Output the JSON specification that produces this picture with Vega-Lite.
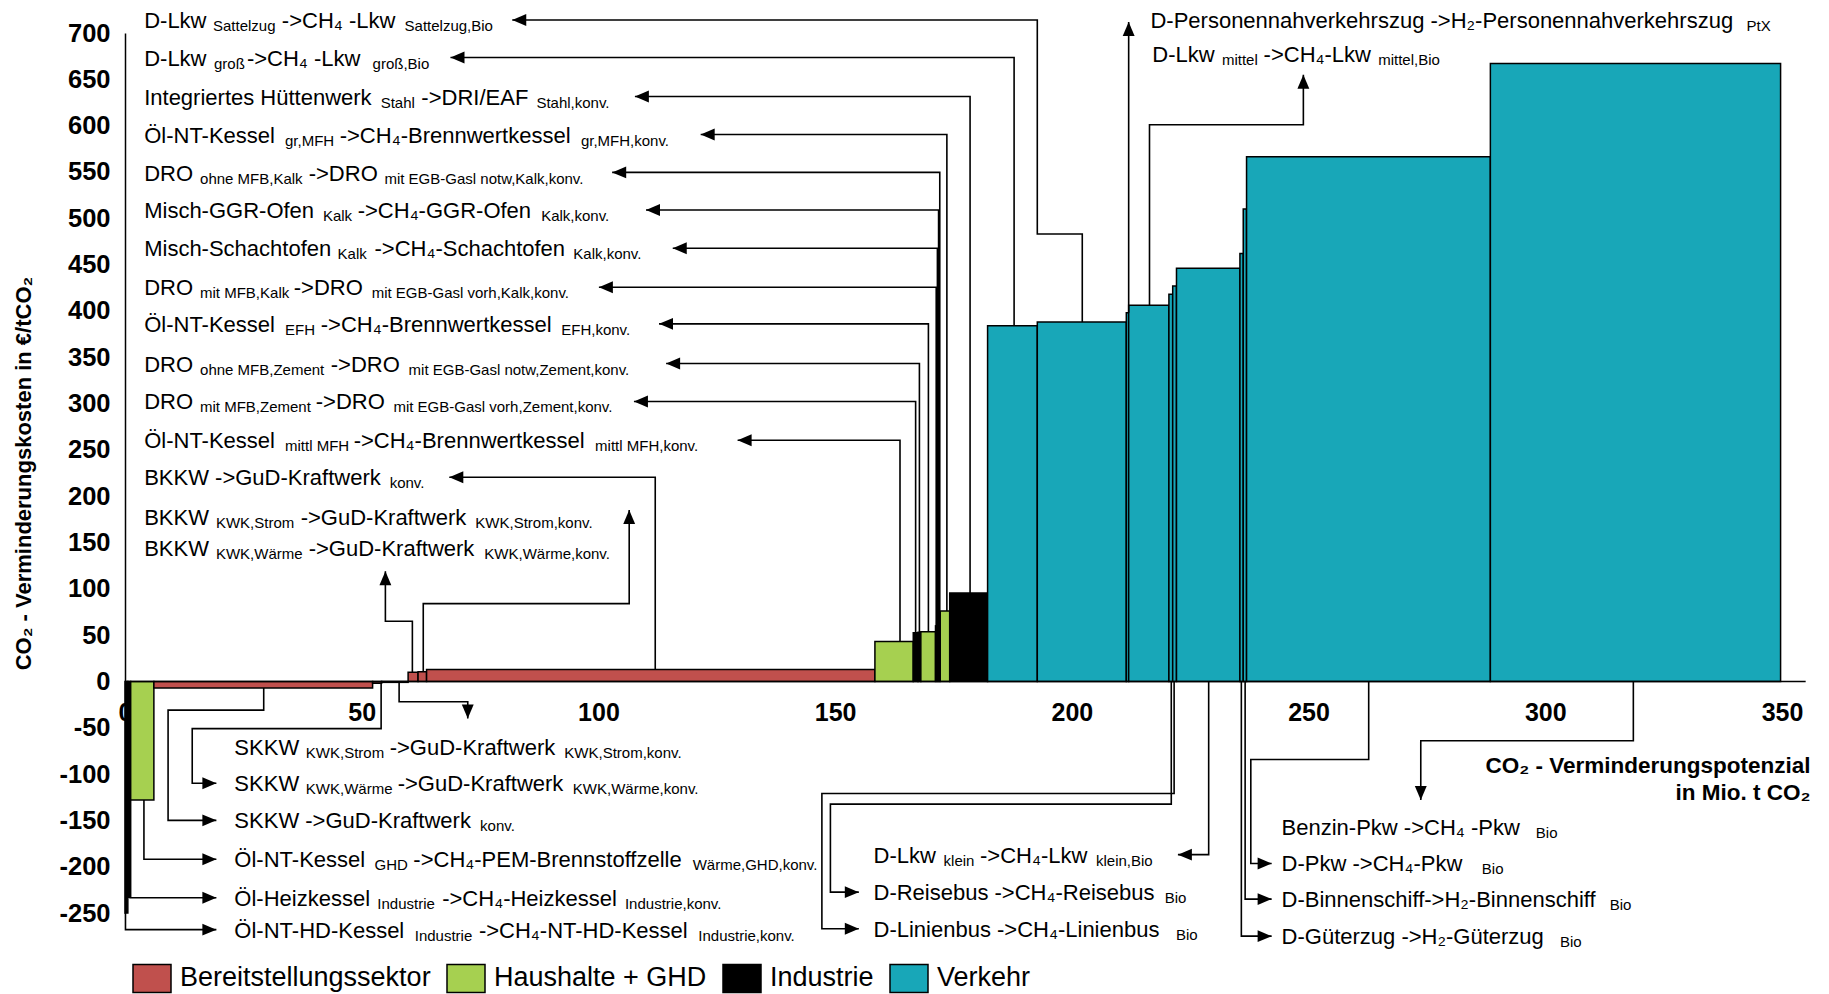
{
  "$schema": "https://vega.github.io/schema/vega-lite/v6.json",
  "width": 1657,
  "height": 880,
  "autosize": {"type": "none"},
  "padding": {"left": 125, "top": 33, "right": 47, "bottom": 81},
  "background": "white",
  "config": {"view": {"stroke": null}, "font": "Liberation Sans"},
  "datasets": {
    "bars": [
      {"x": 0, "x2": 0.6, "v": -250, "s": "Industrie"},
      {"x": 0.6, "x2": 1.2, "v": -233, "s": "Industrie"},
      {"x": 1.2, "x2": 6.1, "v": -128, "s": "Haushalte + GHD"},
      {"x": 6.1, "x2": 52.3, "v": -7, "s": "Bereitstellungssektor"},
      {"x": 52.3, "x2": 54.2, "v": -2, "s": "Bereitstellungssektor"},
      {"x": 54.2, "x2": 59.8, "v": -1, "s": "Bereitstellungssektor"},
      {"x": 59.8, "x2": 61.9, "v": 10, "s": "Bereitstellungssektor"},
      {"x": 61.9, "x2": 63.7, "v": 10.5, "s": "Bereitstellungssektor"},
      {"x": 63.7, "x2": 158.4, "v": 13, "s": "Bereitstellungssektor"},
      {"x": 158.4, "x2": 166.5, "v": 43, "s": "Haushalte + GHD"},
      {"x": 166.5, "x2": 167.5, "v": 52.5, "s": "Industrie"},
      {"x": 167.5, "x2": 168.1, "v": 53, "s": "Industrie"},
      {"x": 168.1, "x2": 171.2, "v": 53.5, "s": "Haushalte + GHD"},
      {"x": 171.2, "x2": 171.45, "v": 60, "s": "Industrie"},
      {"x": 171.45, "x2": 171.7, "v": 64, "s": "Industrie"},
      {"x": 171.7, "x2": 171.95, "v": 68, "s": "Industrie"},
      {"x": 171.95, "x2": 172.2, "v": 72, "s": "Industrie"},
      {"x": 172.2, "x2": 174.2, "v": 76, "s": "Haushalte + GHD"},
      {"x": 174.2, "x2": 182.2, "v": 95.5, "s": "Industrie"},
      {"x": 182.2, "x2": 192.7, "v": 384, "s": "Verkehr"},
      {"x": 192.7, "x2": 211.5, "v": 388, "s": "Verkehr"},
      {"x": 211.5, "x2": 212.0, "v": 398, "s": "Verkehr"},
      {"x": 212.0, "x2": 220.5, "v": 406, "s": "Verkehr"},
      {"x": 220.5, "x2": 221.3, "v": 418, "s": "Verkehr"},
      {"x": 221.3, "x2": 222.1, "v": 427, "s": "Verkehr"},
      {"x": 222.1, "x2": 235.5, "v": 446, "s": "Verkehr"},
      {"x": 235.5, "x2": 236.2, "v": 462, "s": "Verkehr"},
      {"x": 236.2, "x2": 236.9, "v": 510, "s": "Verkehr"},
      {"x": 236.9, "x2": 288.4, "v": 566.5, "s": "Verkehr"},
      {"x": 288.4, "x2": 349.7, "v": 667, "s": "Verkehr"}
    ],
    "leaders": [
      {"id": "L1", "o": 0, "x": 81.8, "y": 714}, {"id": "L1", "o": 1, "x": 192.7, "y": 714}, {"id": "L1", "o": 2, "x": 192.7, "y": 483}, {"id": "L1", "o": 3, "x": 202.2, "y": 483}, {"id": "L1", "o": 4, "x": 202.2, "y": 388},
      {"id": "L2", "o": 0, "x": 68.75, "y": 673.5}, {"id": "L2", "o": 1, "x": 187.8, "y": 673.5}, {"id": "L2", "o": 2, "x": 187.8, "y": 384},
      {"id": "L3", "o": 0, "x": 107.7, "y": 631.5}, {"id": "L3", "o": 1, "x": 178.5, "y": 631.5}, {"id": "L3", "o": 2, "x": 178.5, "y": 95.5},
      {"id": "L4", "o": 0, "x": 121.6, "y": 590.5}, {"id": "L4", "o": 1, "x": 173.6, "y": 590.5}, {"id": "L4", "o": 2, "x": 173.6, "y": 76},
      {"id": "L5", "o": 0, "x": 102.9, "y": 549.5}, {"id": "L5", "o": 1, "x": 172.1, "y": 549.5}, {"id": "L5", "o": 2, "x": 172.1, "y": 72},
      {"id": "L6", "o": 0, "x": 110.05, "y": 509}, {"id": "L6", "o": 1, "x": 171.85, "y": 509}, {"id": "L6", "o": 2, "x": 171.85, "y": 68},
      {"id": "L7", "o": 0, "x": 115.7, "y": 467.6}, {"id": "L7", "o": 1, "x": 171.6, "y": 467.6}, {"id": "L7", "o": 2, "x": 171.6, "y": 64},
      {"id": "L8", "o": 0, "x": 100.1, "y": 425.5}, {"id": "L8", "o": 1, "x": 171.35, "y": 425.5}, {"id": "L8", "o": 2, "x": 171.35, "y": 60},
      {"id": "L9", "o": 0, "x": 112.8, "y": 386}, {"id": "L9", "o": 1, "x": 169.7, "y": 386}, {"id": "L9", "o": 2, "x": 169.7, "y": 53.5},
      {"id": "L10", "o": 0, "x": 114.3, "y": 343.2}, {"id": "L10", "o": 1, "x": 167.8, "y": 343.2}, {"id": "L10", "o": 2, "x": 167.8, "y": 53},
      {"id": "L11", "o": 0, "x": 107.5, "y": 302.2}, {"id": "L11", "o": 1, "x": 167.0, "y": 302.2}, {"id": "L11", "o": 2, "x": 167.0, "y": 52.5},
      {"id": "L12", "o": 0, "x": 129.4, "y": 260.3}, {"id": "L12", "o": 1, "x": 163.7, "y": 260.3}, {"id": "L12", "o": 2, "x": 163.7, "y": 43},
      {"id": "L13", "o": 0, "x": 68.5, "y": 220.4}, {"id": "L13", "o": 1, "x": 112, "y": 220.4}, {"id": "L13", "o": 2, "x": 112, "y": 13},
      {"id": "L14", "o": 0, "x": 106.5, "y": 185}, {"id": "L14", "o": 1, "x": 106.5, "y": 84}, {"id": "L14", "o": 2, "x": 63.0, "y": 84}, {"id": "L14", "o": 3, "x": 63.0, "y": 10.5},
      {"id": "L15", "o": 0, "x": 55, "y": 119}, {"id": "L15", "o": 1, "x": 55, "y": 65}, {"id": "L15", "o": 2, "x": 60.7, "y": 65}, {"id": "L15", "o": 3, "x": 60.7, "y": 10},
      {"id": "B1", "o": 0, "x": 57.9, "y": -1}, {"id": "B1", "o": 1, "x": 57.9, "y": -22}, {"id": "B1", "o": 2, "x": 72.4, "y": -22}, {"id": "B1", "o": 3, "x": 72.4, "y": -40},
      {"id": "B2", "o": 0, "x": 54.1, "y": -2}, {"id": "B2", "o": 1, "x": 54.1, "y": -51}, {"id": "B2", "o": 2, "x": 14.2, "y": -51}, {"id": "B2", "o": 3, "x": 14.2, "y": -110}, {"id": "B2", "o": 4, "x": 19.3, "y": -110},
      {"id": "B3", "o": 0, "x": 29.3, "y": -7}, {"id": "B3", "o": 1, "x": 29.3, "y": -31}, {"id": "B3", "o": 2, "x": 9.1, "y": -31}, {"id": "B3", "o": 3, "x": 9.1, "y": -150}, {"id": "B3", "o": 4, "x": 19.3, "y": -150},
      {"id": "B4", "o": 0, "x": 4.0, "y": -128}, {"id": "B4", "o": 1, "x": 4.0, "y": -192}, {"id": "B4", "o": 2, "x": 19.3, "y": -192},
      {"id": "B5", "o": 0, "x": 0.9, "y": -233.5}, {"id": "B5", "o": 1, "x": 19.3, "y": -233.5},
      {"id": "B6", "o": 0, "x": 0.1, "y": -250}, {"id": "B6", "o": 1, "x": 0.1, "y": -268}, {"id": "B6", "o": 2, "x": 19.3, "y": -268},
      {"id": "M1", "o": 0, "x": 228.9, "y": 0}, {"id": "M1", "o": 1, "x": 228.9, "y": -187}, {"id": "M1", "o": 2, "x": 222.4, "y": -187},
      {"id": "M2", "o": 0, "x": 221.0, "y": 0}, {"id": "M2", "o": 1, "x": 221.0, "y": -132.5}, {"id": "M2", "o": 2, "x": 149.0, "y": -132.5}, {"id": "M2", "o": 3, "x": 149.0, "y": -227.5}, {"id": "M2", "o": 4, "x": 155.0, "y": -227.5},
      {"id": "M3", "o": 0, "x": 221.6, "y": 0}, {"id": "M3", "o": 1, "x": 221.6, "y": -121}, {"id": "M3", "o": 2, "x": 147.2, "y": -121}, {"id": "M3", "o": 3, "x": 147.2, "y": -267}, {"id": "M3", "o": 4, "x": 155.0, "y": -267},
      {"id": "R1", "o": 0, "x": 318.6, "y": 0}, {"id": "R1", "o": 1, "x": 318.6, "y": -64}, {"id": "R1", "o": 2, "x": 273.7, "y": -64}, {"id": "R1", "o": 3, "x": 273.7, "y": -128},
      {"id": "R2", "o": 0, "x": 262.7, "y": 0}, {"id": "R2", "o": 1, "x": 262.7, "y": -84.3}, {"id": "R2", "o": 2, "x": 237.8, "y": -84.3}, {"id": "R2", "o": 3, "x": 237.8, "y": -196.5}, {"id": "R2", "o": 4, "x": 242.2, "y": -196.5},
      {"id": "R3", "o": 0, "x": 236.6, "y": 0}, {"id": "R3", "o": 1, "x": 236.6, "y": -235}, {"id": "R3", "o": 2, "x": 242.2, "y": -235},
      {"id": "R4", "o": 0, "x": 235.8, "y": 0}, {"id": "R4", "o": 1, "x": 235.8, "y": -275}, {"id": "R4", "o": 2, "x": 242.2, "y": -275},
      {"id": "T1", "o": 0, "x": 212.0, "y": 712}, {"id": "T1", "o": 1, "x": 212.0, "y": 398},
      {"id": "T2", "o": 0, "x": 248.9, "y": 655}, {"id": "T2", "o": 1, "x": 248.9, "y": 601}, {"id": "T2", "o": 2, "x": 216.4, "y": 601}, {"id": "T2", "o": 3, "x": 216.4, "y": 406}
    ],
    "arrows": [
      {"x": 81.8, "y": 714, "dir": "left"}, {"x": 68.75, "y": 673.5, "dir": "left"}, {"x": 107.7, "y": 631.5, "dir": "left"},
      {"x": 121.6, "y": 590.5, "dir": "left"}, {"x": 102.9, "y": 549.5, "dir": "left"}, {"x": 110.05, "y": 509, "dir": "left"},
      {"x": 115.7, "y": 467.6, "dir": "left"}, {"x": 100.1, "y": 425.5, "dir": "left"}, {"x": 112.8, "y": 386, "dir": "left"},
      {"x": 114.3, "y": 343.2, "dir": "left"}, {"x": 107.5, "y": 302.2, "dir": "left"}, {"x": 129.4, "y": 260.3, "dir": "left"},
      {"x": 68.5, "y": 220.4, "dir": "left"}, {"x": 106.5, "y": 185, "dir": "up"}, {"x": 55, "y": 119, "dir": "up"},
      {"x": 72.4, "y": -40, "dir": "down"}, {"x": 19.3, "y": -110, "dir": "right"}, {"x": 19.3, "y": -150, "dir": "right"},
      {"x": 19.3, "y": -192, "dir": "right"}, {"x": 19.3, "y": -233.5, "dir": "right"}, {"x": 19.3, "y": -268, "dir": "right"},
      {"x": 222.4, "y": -187, "dir": "left"}, {"x": 155.0, "y": -227.5, "dir": "right"}, {"x": 155.0, "y": -267, "dir": "right"},
      {"x": 273.7, "y": -128, "dir": "down"}, {"x": 242.2, "y": -196.5, "dir": "right"}, {"x": 242.2, "y": -235, "dir": "right"},
      {"x": 242.2, "y": -275, "dir": "right"}, {"x": 212.0, "y": 712, "dir": "up"}, {"x": 248.9, "y": 655, "dir": "up"}
    ],
    "labels": [
      {"x": 4.05, "y": 713.6, "t": "D-Lkw", "sub": 0}, {"x": 18.59, "y": 713.6, "t": "Sattelzug", "sub": 1}, {"x": 33.13, "y": 713.6, "t": "->CH₄ -Lkw", "sub": 0}, {"x": 59.05, "y": 713.6, "t": "Sattelzug,Bio", "sub": 1},
      {"x": 4.05, "y": 672.6, "t": "D-Lkw", "sub": 0}, {"x": 18.8, "y": 672.6, "t": "groß", "sub": 1}, {"x": 25.75, "y": 672.6, "t": "->CH₄ -Lkw", "sub": 0}, {"x": 52.3, "y": 672.6, "t": "groß,Bio", "sub": 1},
      {"x": 4.05, "y": 630.4, "t": "Integriertes Hüttenwerk", "sub": 0}, {"x": 54.0, "y": 630.4, "t": "Stahl", "sub": 1}, {"x": 62.6, "y": 630.4, "t": "->DRI/EAF", "sub": 0}, {"x": 86.9, "y": 630.4, "t": "Stahl,konv.", "sub": 1},
      {"x": 4.05, "y": 589.5, "t": "Öl-NT-Kessel", "sub": 0}, {"x": 33.8, "y": 589.5, "t": "gr,MFH", "sub": 1}, {"x": 45.35, "y": 589.5, "t": "->CH₄-Brennwertkessel", "sub": 0}, {"x": 96.3, "y": 589.5, "t": "gr,MFH,konv.", "sub": 1},
      {"x": 4.05, "y": 548.5, "t": "DRO", "sub": 0}, {"x": 15.85, "y": 548.5, "t": "ohne MFB,Kalk", "sub": 1}, {"x": 38.8, "y": 548.5, "t": "->DRO", "sub": 0}, {"x": 54.8, "y": 548.5, "t": "mit EGB-Gasl notw,Kalk,konv.", "sub": 1},
      {"x": 4.05, "y": 508.6, "t": "Misch-GGR-Ofen", "sub": 0}, {"x": 41.8, "y": 508.6, "t": "Kalk", "sub": 1}, {"x": 49.15, "y": 508.6, "t": "->CH₄-GGR-Ofen", "sub": 0}, {"x": 87.9, "y": 508.6, "t": "Kalk,konv.", "sub": 1},
      {"x": 4.05, "y": 467.6, "t": "Misch-Schachtofen", "sub": 0}, {"x": 44.9, "y": 467.6, "t": "Kalk", "sub": 1}, {"x": 52.7, "y": 467.6, "t": "->CH₄-Schachtofen", "sub": 0}, {"x": 94.7, "y": 467.6, "t": "Kalk,konv.", "sub": 1},
      {"x": 4.05, "y": 425.5, "t": "DRO", "sub": 0}, {"x": 15.85, "y": 425.5, "t": "mit MFB,Kalk", "sub": 1}, {"x": 35.65, "y": 425.5, "t": "->DRO", "sub": 0}, {"x": 52.1, "y": 425.5, "t": "mit EGB-Gasl vorh,Kalk,konv.", "sub": 1},
      {"x": 4.05, "y": 386, "t": "Öl-NT-Kessel", "sub": 0}, {"x": 33.8, "y": 386, "t": "EFH", "sub": 1}, {"x": 41.35, "y": 386, "t": "->CH₄-Brennwertkessel", "sub": 0}, {"x": 92.15, "y": 386, "t": "EFH,konv.", "sub": 1},
      {"x": 4.05, "y": 343.2, "t": "DRO", "sub": 0}, {"x": 15.85, "y": 343.2, "t": "ohne MFB,Zement", "sub": 1}, {"x": 43.45, "y": 343.2, "t": "->DRO", "sub": 0}, {"x": 59.9, "y": 343.2, "t": "mit EGB-Gasl  notw,Zement,konv.", "sub": 1},
      {"x": 4.05, "y": 302.2, "t": "DRO", "sub": 0}, {"x": 15.85, "y": 302.2, "t": "mit MFB,Zement", "sub": 1}, {"x": 40.3, "y": 302.2, "t": "->DRO", "sub": 0}, {"x": 56.7, "y": 302.2, "t": "mit  EGB-Gasl vorh,Zement,konv.", "sub": 1},
      {"x": 4.05, "y": 260.3, "t": "Öl-NT-Kessel", "sub": 0}, {"x": 33.8, "y": 260.3, "t": "mittl MFH", "sub": 1}, {"x": 48.3, "y": 260.3, "t": "->CH₄-Brennwertkessel", "sub": 0}, {"x": 99.3, "y": 260.3, "t": "mittl  MFH,konv.", "sub": 1},
      {"x": 4.05, "y": 220.4, "t": "BKKW ->GuD-Kraftwerk", "sub": 0}, {"x": 55.9, "y": 220.4, "t": "konv.", "sub": 1},
      {"x": 4.05, "y": 177.5, "t": "BKKW", "sub": 0}, {"x": 19.2, "y": 177.5, "t": "KWK,Strom", "sub": 1}, {"x": 37.1, "y": 177.5, "t": "->GuD-Kraftwerk", "sub": 0}, {"x": 74.0, "y": 177.5, "t": "KWK,Strom,konv.", "sub": 1},
      {"x": 4.05, "y": 143.7, "t": "BKKW", "sub": 0}, {"x": 19.2, "y": 143.7, "t": "KWK,Wärme", "sub": 1}, {"x": 38.8, "y": 143.7, "t": "->GuD-Kraftwerk", "sub": 0}, {"x": 75.9, "y": 143.7, "t": "KWK,Wärme,konv.", "sub": 1},
      {"x": 23.1, "y": -71, "t": "SKKW", "sub": 0}, {"x": 38.2, "y": -71, "t": "KWK,Strom", "sub": 1}, {"x": 55.9, "y": -71, "t": "->GuD-Kraftwerk", "sub": 0}, {"x": 92.8, "y": -71, "t": "KWK,Strom,konv.", "sub": 1},
      {"x": 23.1, "y": -110, "t": "SKKW", "sub": 0}, {"x": 38.2, "y": -110, "t": "KWK,Wärme", "sub": 1}, {"x": 57.6, "y": -110, "t": "->GuD-Kraftwerk", "sub": 0}, {"x": 94.6, "y": -110, "t": "KWK,Wärme,konv.", "sub": 1},
      {"x": 23.1, "y": -150, "t": "SKKW ->GuD-Kraftwerk", "sub": 0}, {"x": 75.0, "y": -150, "t": "konv.", "sub": 1},
      {"x": 23.1, "y": -192, "t": "Öl-NT-Kessel", "sub": 0}, {"x": 52.7, "y": -192, "t": "GHD", "sub": 1}, {"x": 60.9, "y": -192, "t": "->CH₄-PEM-Brennstoffzelle", "sub": 0}, {"x": 119.9, "y": -192, "t": "Wärme,GHD,konv.", "sub": 1},
      {"x": 23.1, "y": -233.5, "t": "Öl-Heizkessel", "sub": 0}, {"x": 53.3, "y": -233.5, "t": "Industrie", "sub": 1}, {"x": 67.0, "y": -233.5, "t": "->CH₄-Heizkessel", "sub": 0}, {"x": 105.6, "y": -233.5, "t": "Industrie,konv.", "sub": 1},
      {"x": 23.1, "y": -268, "t": "Öl-NT-HD-Kessel", "sub": 0}, {"x": 61.2, "y": -268, "t": "Industrie", "sub": 1}, {"x": 74.75, "y": -268, "t": "->CH₄-NT-HD-Kessel", "sub": 0}, {"x": 121.1, "y": -268, "t": "Industrie,konv.", "sub": 1},
      {"x": 158.1, "y": -187, "t": "D-Lkw", "sub": 0}, {"x": 172.9, "y": -187, "t": "klein", "sub": 1}, {"x": 180.6, "y": -187, "t": "->CH₄-Lkw", "sub": 0}, {"x": 205.1, "y": -187, "t": "klein,Bio", "sub": 1},
      {"x": 158.1, "y": -227.5, "t": "D-Reisebus ->CH₄-Reisebus", "sub": 0}, {"x": 219.6, "y": -227.5, "t": "Bio", "sub": 1},
      {"x": 158.1, "y": -267, "t": "D-Linienbus  ->CH₄-Linienbus", "sub": 0}, {"x": 222.0, "y": -267, "t": "Bio", "sub": 1},
      {"x": 244.3, "y": -157, "t": "Benzin-Pkw ->CH₄ -Pkw", "sub": 0}, {"x": 298.0, "y": -157, "t": "Bio", "sub": 1},
      {"x": 244.3, "y": -196.5, "t": "D-Pkw ->CH₄-Pkw", "sub": 0}, {"x": 286.6, "y": -196.5, "t": "Bio", "sub": 1},
      {"x": 244.3, "y": -235, "t": "D-Binnenschiff->H₂-Binnenschiff", "sub": 0}, {"x": 313.6, "y": -235, "t": "Bio", "sub": 1},
      {"x": 244.3, "y": -275, "t": "D-Güterzug ->H₂-Güterzug", "sub": 0}, {"x": 303.1, "y": -275, "t": "Bio", "sub": 1},
      {"x": 216.6, "y": 713.6, "t": "D-Personennahverkehrszug ->H₂-Personennahverkehrszug", "sub": 0}, {"x": 342.5, "y": 713.6, "t": "PtX", "sub": 1},
      {"x": 217.0, "y": 677.6, "t": "D-Lkw", "sub": 0}, {"x": 231.7, "y": 677.6, "t": "mittel", "sub": 1}, {"x": 240.5, "y": 677.6, "t": "->CH₄-Lkw", "sub": 0}, {"x": 264.7, "y": 677.6, "t": "mittel,Bio", "sub": 1}
    ]
  },
  "layer": [
    {
      "data": {"name": "bars"},
      "mark": {"type": "rect", "stroke": "black", "strokeWidth": 1.5},
      "encoding": {
        "x": {
          "field": "x", "type": "quantitative",
          "scale": {"domain": [0, 350], "nice": false, "zero": false},
          "axis": {
            "values": [0, 50, 100, 150, 200, 250, 300, 350],
            "offset": -232, "domain": false, "ticks": false, "tickSize": 0, "grid": false,
            "labelExpr": "'' + datum.value",
            "labelFont": "Liberation Sans", "labelFontWeight": "bold", "labelFontSize": 25, "labelColor": "black",
            "labelPadding": 19, "labelFlush": false, "labelOverlap": false,
            "title": ["CO₂ - Verminderungspotenzial", "in Mio. t CO₂"],
            "titleFont": "Liberation Sans", "titleFontWeight": "bold", "titleFontSize": 22.5, "titleColor": "black",
            "titleAnchor": "end", "titleAlign": "right", "titleX": 1685, "titleY": 73, "titleBaseline": "top", "titleLineHeight": 27
          }
        },
        "x2": {"field": "x2"},
        "y": {
          "field": "v", "type": "quantitative",
          "scale": {"domain": [-250, 700], "nice": false, "zero": false},
          "axis": {
            "values": [-250, -200, -150, -100, -50, 0, 50, 100, 150, 200, 250, 300, 350, 400, 450, 500, 550, 600, 650, 700],
            "labelExpr": "'' + datum.value",
            "domain": true, "domainColor": "black", "domainWidth": 1.5, "ticks": false, "tickSize": 0, "grid": false,
            "labelFont": "Liberation Sans", "labelFontWeight": "bold", "labelFontSize": 25.5, "labelColor": "black",
            "labelPadding": 15, "labelOverlap": false, "labelFlush": false,
            "title": "CO₂ - Verminderungskosten in €/tCO₂",
            "titleFont": "Liberation Sans", "titleFontWeight": "bold", "titleFontSize": 22, "titleColor": "black",
            "titleX": -102, "titleY": 440, "titleAngle": -90, "titleAlign": "center", "titleBaseline": "middle"
          }
        },
        "y2": {"datum": 0},
        "color": {
          "field": "s", "type": "nominal",
          "scale": {"domain": ["Bereitstellungssektor", "Haushalte + GHD", "Industrie", "Verkehr"], "range": ["#C0504D", "#A6D050", "#000000", "#18A7B8"]},
          "legend": {
            "orient": "none", "legendX": 7, "legendY": 925, "direction": "horizontal", "title": null, "padding": 0,
            "symbolType": "M-1,-0.74H1V0.74H-1Z", "symbolSize": 1444, "symbolStrokeColor": "black", "symbolStrokeWidth": 1.5, "symbolOpacity": 1,
            "labelFont": "Liberation Sans", "labelFontSize": 27, "labelColor": "black", "labelOffset": 8, "columnPadding": 13, "labelLimit": 400
          }
        }
      }
    },
    {
      "data": {"values": [{"a": 0, "b": 355}]},
      "mark": {"type": "rule", "color": "black", "strokeWidth": 1.5},
      "encoding": {
        "x": {"field": "a", "type": "quantitative"},
        "x2": {"field": "b"},
        "y": {"datum": 0, "type": "quantitative"}
      }
    },
    {
      "data": {"name": "leaders"},
      "mark": {"type": "line", "color": "black", "strokeWidth": 1.6, "interpolate": "linear"},
      "encoding": {
        "x": {"field": "x", "type": "quantitative"},
        "y": {"field": "y", "type": "quantitative"},
        "detail": {"field": "id"},
        "order": {"field": "o", "type": "quantitative"}
      }
    },
    {
      "data": {"name": "arrows"},
      "mark": {"type": "point", "filled": true, "color": "black", "opacity": 1, "size": 196, "strokeWidth": 0},
      "encoding": {
        "x": {"field": "x", "type": "quantitative"},
        "y": {"field": "y", "type": "quantitative"},
        "shape": {
          "field": "dir", "type": "nominal", "legend": null,
          "scale": {"domain": ["left", "right", "up", "down"], "range": ["M0,0L2,-0.85L2,0.85Z", "M0,0L-2,-0.85L-2,0.85Z", "M0,0L-0.85,2L0.85,2Z", "M0,0L-0.85,-2L0.85,-2Z"]}
        }
      }
    },
    {
      "data": {"name": "labels"},
      "transform": [{"filter": "datum.sub == 0"}],
      "mark": {"type": "text", "align": "left", "baseline": "alphabetic", "dy": 8, "fontSize": 22, "font": "Liberation Sans", "color": "black"},
      "encoding": {
        "x": {"field": "x", "type": "quantitative"},
        "y": {"field": "y", "type": "quantitative"},
        "text": {"field": "t"}
      }
    },
    {
      "data": {"name": "labels"},
      "transform": [{"filter": "datum.sub == 1"}],
      "mark": {"type": "text", "align": "left", "baseline": "alphabetic", "dy": 11, "fontSize": 15, "font": "Liberation Sans", "color": "black"},
      "encoding": {
        "x": {"field": "x", "type": "quantitative"},
        "y": {"field": "y", "type": "quantitative"},
        "text": {"field": "t"}
      }
    }
  ]
}
